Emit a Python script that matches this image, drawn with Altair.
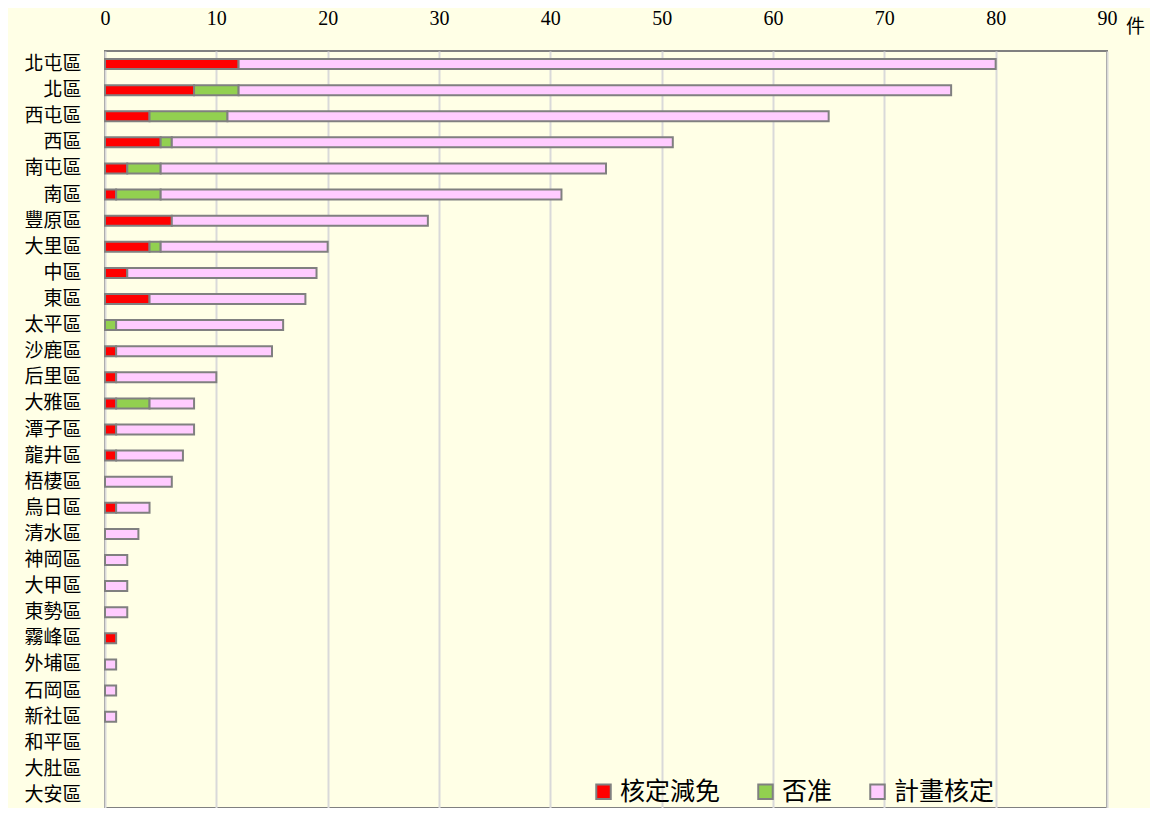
import altair as alt
import pandas as pd

districts = ["北屯區", "北區", "西屯區", "西區", "南屯區", "南區", "豐原區", "大里區", "中區", "東區",
             "太平區", "沙鹿區", "后里區", "大雅區", "潭子區", "龍井區", "梧棲區", "烏日區", "清水區",
             "神岡區", "大甲區", "東勢區", "霧峰區", "外埔區", "石岡區", "新社區", "和平區", "大肚區", "大安區"]
reduced = [12, 8, 4, 5, 2, 1, 6, 4, 2, 4, 0, 1, 1, 1, 1, 1, 0, 1, 0, 0, 0, 0, 1, 0, 0, 0, 0, 0, 0]
rejected = [0, 4, 7, 1, 3, 4, 0, 1, 0, 0, 1, 0, 0, 3, 0, 0, 0, 0, 0, 0, 0, 0, 0, 0, 0, 0, 0, 0, 0]
approved = [68, 64, 54, 45, 40, 36, 23, 15, 17, 14, 15, 14, 9, 4, 7, 6, 6, 3, 3, 2, 2, 2, 0, 1, 1, 1, 0, 0, 0]
series = ["核定減免", "否准", "計畫核定"]
colors = ["#FF0000", "#92D050", "#FFCCFF"]
x_ticks = [0, 10, 20, 30, 40, 50, 60, 70, 80, 90]

rows = []
for i, d in enumerate(districts):
    for k, (s, vals) in enumerate(zip(series, [reduced, rejected, approved])):
        if vals[i] > 0:
            rows.append({"區": d, "類別": s, "件數": vals[i], "序": k})
df = pd.DataFrame(rows)

CJK = "Noto Sans CJK TC"
NUM = "Liberation Serif"

chart = alt.Chart(df).mark_bar(height=10, stroke="#808080", strokeWidth=2).encode(
    x=alt.X("件數:Q", stack="zero",
            scale=alt.Scale(domain=[0, 90], nice=False),
            axis=alt.Axis(orient="top", values=x_ticks, ticks=False, tickSize=0, domain=False,
                          labelFlush=False,
                          labelFont=NUM, labelFontSize=20, labelColor="#000000", labelPadding=23,
                          gridColor="#D9D9D9", gridWidth=2,
                          title="件", titleAngle=0, titleX=1030, titleY=-25,
                          titleFont=CJK, titleFontSize=19, titleFontWeight="normal",
                          titleColor="#000000", titleBaseline="middle")),
    y=alt.Y("區:N", sort=districts, scale=alt.Scale(domain=districts),
            axis=alt.Axis(title=None, ticks=False, domain=False, grid=False,
                          labelFont=CJK, labelFontSize=19, labelColor="#000000", labelPadding=24)),
    color=alt.Color("類別:N", scale=alt.Scale(domain=series, range=colors),
                    legend=alt.Legend(orient="none", legendX=486, legendY=728, direction="horizontal",
                                      title=None, symbolType="square", symbolSize=210,
                                      symbolStrokeColor="#808080", symbolStrokeWidth=2,
                                      symbolOpacity=1, labelFont=CJK, labelFontSize=25,
                                      labelColor="#000000", columnPadding=32, labelOffset=4,
                                      labelLimit=300)),
    order=alt.Order("序:Q"),
).properties(
    width=1002, height=757, background="#FFFFE6",
    padding={"left": 97, "top": 43, "right": 43, "bottom": 0},
    autosize=alt.AutoSizeParams(type="none"),
).configure_view(stroke="#808080", strokeWidth=2)

chart.save("out.html", embed_options={"renderer": "svg", "actions": False})
